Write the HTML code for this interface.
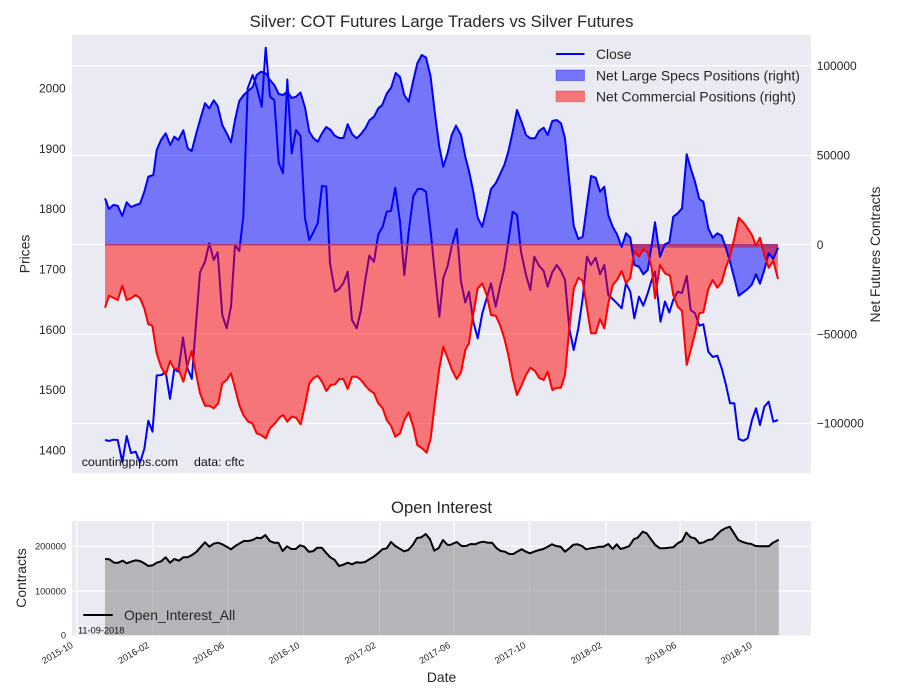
<!DOCTYPE html>
<html><head><meta charset="utf-8"><style>
html,body{margin:0;padding:0;background:#fff;}
svg{display:block;font-family:"Liberation Sans",Arial,sans-serif;}
</style></head><body>
<svg width="900" height="700" viewBox="0 0 900 700" xmlns="http://www.w3.org/2000/svg">
<rect x="0" y="0" width="900" height="700" fill="#fff"/>
<!-- main axes -->
<rect x="72" y="35" width="739" height="438" fill="#eaeaf2"/>
<g stroke="#fff" stroke-width="1.2">
<line x1="72" y1="65.7" x2="811" y2="65.7"/>
<line x1="72" y1="155.3" x2="811" y2="155.3"/>
<line x1="72" y1="244.5" x2="811" y2="244.5"/>
<line x1="72" y1="334" x2="811" y2="334"/>
<line x1="72" y1="423.3" x2="811" y2="423.3"/>
</g>
<!-- Close -->
<polyline fill="none" stroke="#0000ff" stroke-width="2" stroke-linejoin="round" points="105,440 109,441 113.3,439.7 117.7,440 122.3,462 126.7,436 131,453 135.7,451.7 140,462.5 144.3,449 148.3,420.7 152.5,431.7 156.7,375.5 161.5,375 165.7,372 170,398.8 174.3,369 178.3,371.7 183,337.5 187.5,368.3 191.8,378.8 195,336.7 200,272.3 205,261.7 209.3,243.3 213.7,260 217.7,252.3 222.3,315 226.7,328.3 231,306.7 235,245 239.3,251 243.3,216.7 247.7,88.3 252.7,75 256.7,87.3 261.7,106.7 265.7,47.7 270,96.7 274.3,100 278.7,162.7 283,173.3 287.3,79.5 291.7,153.5 296,130 300.5,136 305,218.3 309.3,240 313.5,232 317.7,223.3 322,185.8 326.3,186.7 330,263.3 335,291.7 339,289 343.3,283.3 347.7,271.7 352,320 356.7,328.3 361,310 365.3,280 369.3,255.7 374,261.7 378.3,234.3 382.7,226.7 386.7,211.7 391,211 395.3,187.7 400,221.7 404.3,275 408.7,231.7 413.3,196.3 417.7,189 422,189 426,191.7 430.7,231.7 435,275 439.3,316.7 443.3,278.3 447.7,265.7 452,245 456.7,229 461,281.7 465.3,302.5 469,291.7 473.3,321.7 477.7,338.3 482.3,313.3 486.7,298.3 491,283.3 495.7,306.7 500,286.7 504.3,268.3 508.3,241.7 512.7,211.7 517,215 521,251.7 526,275 530.3,290 534.3,256.7 539,265.7 543.7,271 547.7,286.7 552.3,272.3 556.7,265 561,271 565,280 569.3,328.3 573.7,350 578.3,328.3 582.7,298.3 587,256.7 591,265 595.7,257.7 600,274.3 604.3,265 608.3,295 612.7,299 617,303.3 621.7,308.3 626,283.3 630.3,291.7 634.3,318.3 639,296.7 643.3,305.7 647.7,293.3 651.7,280 655,271.7 660.5,321.7 665,301.5 669.3,312.5 673.3,299.7 677.7,291.7 682,293 686.7,276 690.7,310 695,313.3 699.3,325.7 703.3,324.3 708.3,351.7 712.7,357 717.3,355.7 721.7,368.3 726,385 730,403.3 734.3,403.3 738.7,439 743.3,440.7 747.7,438.3 752,420 756,408.3 760,425 764.3,406.7 768.7,401.7 773.3,421.7 778,420"/>
<!-- Specs fill -->
<polygon fill="rgba(0,0,255,0.5)" stroke="none" points="105,244.5 105,198.3 109,209 113.3,205 117.7,205.7 122.3,216 126.7,202.3 131,207 135.7,205 140,203.7 144.3,191.7 148.3,176.7 153.3,175 156.7,150 161,140 165.7,133.3 170.3,145 174.3,136.7 178.3,140 183.3,130.3 187.7,148.3 191.7,151 196.7,131.7 201,116.7 205,103.3 209.3,108.3 213.7,100.3 217.7,106 222.3,125 226.7,133.3 231,142.3 235,120 239.3,101 243.7,95 248.3,90.7 252.7,87 256.7,75 261,71.7 265.7,73.3 270,80 274.3,85 278.7,94 283,95 287.3,91.7 291.7,98 296,96.7 300.5,92.5 305,107.5 309.3,131.7 313.3,138 317.7,141.7 322,133.3 326.2,127 330.7,130 334.5,135.5 339,138 343.5,138 347.7,124.2 352.2,134.2 356.7,138.3 361,134 365.3,128.3 369.5,120.2 374,116.7 378.3,108.3 382.2,105 386.8,93.5 391.2,87.5 395.7,73 400,77 404.3,95 408.7,101.7 413,81.7 417.3,63.3 421.7,55 426,57.5 430.5,76 435,114 439.3,146.7 443.3,166.7 447.7,152.5 451.7,135 456,125.7 461,135 465.3,156.7 469,171 473.3,191.7 477.7,217.7 482.3,226.7 486.7,208.3 491,189 495.7,183.3 500,174.3 504.3,165 508.3,151.7 512.7,131.7 517,110 521.7,122.3 526,135 530.3,138.3 535,138.3 539,131 543.7,127.7 547.7,135 552.3,121 556.7,120 561,123.3 565,138.3 569.3,181.7 573.7,225.7 578.3,239 582.7,236.7 587,205 591,176 595.7,177.7 600,191.7 604.3,186.7 608.3,215 612.7,226.7 617,234.3 621.7,247 626,233.3 630.3,237.7 634.3,265 639,266.7 643.3,274.3 647.7,270 651.7,245 655,222.3 660,256.7 665,244.3 669.3,242.3 673.3,216.7 677.7,213.3 682,208.3 686.7,154.3 690.7,168.3 695,181.7 699.3,199 703.3,201.7 708.3,228.3 712.7,237.7 717.3,233.3 721.7,235.7 726,248.3 730,261.7 734.3,278.3 738.7,295.7 743.3,292.3 747.7,289 752,284.3 756,274.3 760,283.7 764.3,270 768.7,253.3 773.3,259 778,247.7 778,244.5"/>
<!-- Commercial fill -->
<polygon fill="rgba(255,0,0,0.5)" stroke="none" points="105,244.5 105,307.7 109,295.7 113.3,297.7 117.7,300 122.3,285.7 126.7,300 131,298.3 135.7,295 140,298.3 144.3,308.3 148.3,324.3 152.3,325.7 156.7,353.3 161,366.7 165.7,375 170,361 174.3,369 178.3,368.3 183.3,381.7 187.7,365 191.7,351 195.7,371.7 200,393.3 205,405.7 209.3,405.7 213.7,408.3 218.3,403.3 222.3,383.3 226.7,380 231,373.3 235,388.3 239.3,405 243.3,415 248.3,421.7 252.3,423.3 256.7,433.3 261,435 265.7,438.3 270,428.3 275,423.3 280,417 283.3,415 287.3,421.7 291.7,416.7 296,417.7 300.7,424.3 305,405 309.3,383.3 313.3,378.3 317.7,375.7 322,381.7 326.3,391 330.7,385 335,384.3 339.3,379 343.3,379 347.7,389 352,376.7 356.7,376.7 361,380 365.3,385.7 369.3,390 374,393.3 378.3,403.3 382.7,408.3 386.7,420 391,425.7 395.3,436.7 400,433.3 404.3,420 408.7,412.3 413.3,426.7 417.3,445 422,448.3 426.7,452.7 430.7,438.3 435,401.7 439.3,368.3 443.3,346.7 447.7,358.3 452,370 456.7,379 461,372.3 465.3,350 469,343.3 472.3,320 477.7,288.3 482.3,283.3 486.7,295 491,315 495.7,315.7 500,325 504.3,338.3 508.3,355 512.7,378.3 517,395 521.7,385 526,375 530.3,367.7 535,371 539,377.7 543.7,380 547.7,371.7 552.3,390 556.7,387.7 561,387.7 565,375 569.3,328.3 573.7,289 578.3,277.7 582.7,281 587,308.3 591,333.3 595.7,333.3 600,319 604.3,328.3 608.3,303.3 612.7,285 617,280 621.7,271 626,283.3 630.3,277.7 634.3,251 639,256.7 643.3,249.3 647.7,252.3 651.7,268.3 655,298.3 660,265 665,273.3 670,275.7 673.3,295 677.7,306.7 682,311 686.7,365 690.7,350 695,333.3 699.3,313.3 703.3,312.3 708.3,289 712.7,280 717.3,287.7 721.7,282.3 726,266.7 730,256.7 734.3,238.3 738.7,217.7 743.3,222.3 747.7,228.3 752,235 756,245.7 760,237.7 764.3,255 768.7,267.7 773.3,261 778,279 778,244.5"/>
<!-- zero band -->
<line x1="105" y1="244.8" x2="778" y2="244.8" stroke="#b03a78" stroke-width="1.5"/>
<rect x="631.7" y="244.3" width="146.5" height="3.4" fill="#a8387a" opacity="0.85"/>
<!-- Specs line -->
<polyline fill="none" stroke="#0000ff" stroke-width="2" stroke-linejoin="round" points="105,198.3 109,209 113.3,205 117.7,205.7 122.3,216 126.7,202.3 131,207 135.7,205 140,203.7 144.3,191.7 148.3,176.7 153.3,175 156.7,150 161,140 165.7,133.3 170.3,145 174.3,136.7 178.3,140 183.3,130.3 187.7,148.3 191.7,151 196.7,131.7 201,116.7 205,103.3 209.3,108.3 213.7,100.3 217.7,106 222.3,125 226.7,133.3 231,142.3 235,120 239.3,101 243.7,95 248.3,90.7 252.7,87 256.7,75 261,71.7 265.7,73.3 270,80 274.3,85 278.7,94 283,95 287.3,91.7 291.7,98 296,96.7 300.5,92.5 305,107.5 309.3,131.7 313.3,138 317.7,141.7 322,133.3 326.2,127 330.7,130 334.5,135.5 339,138 343.5,138 347.7,124.2 352.2,134.2 356.7,138.3 361,134 365.3,128.3 369.5,120.2 374,116.7 378.3,108.3 382.2,105 386.8,93.5 391.2,87.5 395.7,73 400,77 404.3,95 408.7,101.7 413,81.7 417.3,63.3 421.7,55 426,57.5 430.5,76 435,114 439.3,146.7 443.3,166.7 447.7,152.5 451.7,135 456,125.7 461,135 465.3,156.7 469,171 473.3,191.7 477.7,217.7 482.3,226.7 486.7,208.3 491,189 495.7,183.3 500,174.3 504.3,165 508.3,151.7 512.7,131.7 517,110 521.7,122.3 526,135 530.3,138.3 535,138.3 539,131 543.7,127.7 547.7,135 552.3,121 556.7,120 561,123.3 565,138.3 569.3,181.7 573.7,225.7 578.3,239 582.7,236.7 587,205 591,176 595.7,177.7 600,191.7 604.3,186.7 608.3,215 612.7,226.7 617,234.3 621.7,247 626,233.3 630.3,237.7 634.3,265 639,266.7 643.3,274.3 647.7,270 651.7,245 655,222.3 660,256.7 665,244.3 669.3,242.3 673.3,216.7 677.7,213.3 682,208.3 686.7,154.3 690.7,168.3 695,181.7 699.3,199 703.3,201.7 708.3,228.3 712.7,237.7 717.3,233.3 721.7,235.7 726,248.3 730,261.7 734.3,278.3 738.7,295.7 743.3,292.3 747.7,289 752,284.3 756,274.3 760,283.7 764.3,270 768.7,253.3 773.3,259 778,247.7"/>
<!-- Commercial line -->
<polyline fill="none" stroke="#ff0000" stroke-width="2" stroke-linejoin="round" points="105,307.7 109,295.7 113.3,297.7 117.7,300 122.3,285.7 126.7,300 131,298.3 135.7,295 140,298.3 144.3,308.3 148.3,324.3 152.3,325.7 156.7,353.3 161,366.7 165.7,375 170,361 174.3,369 178.3,368.3 183.3,381.7 187.7,365 191.7,351 195.7,371.7 200,393.3 205,405.7 209.3,405.7 213.7,408.3 218.3,403.3 222.3,383.3 226.7,380 231,373.3 235,388.3 239.3,405 243.3,415 248.3,421.7 252.3,423.3 256.7,433.3 261,435 265.7,438.3 270,428.3 275,423.3 280,417 283.3,415 287.3,421.7 291.7,416.7 296,417.7 300.7,424.3 305,405 309.3,383.3 313.3,378.3 317.7,375.7 322,381.7 326.3,391 330.7,385 335,384.3 339.3,379 343.3,379 347.7,389 352,376.7 356.7,376.7 361,380 365.3,385.7 369.3,390 374,393.3 378.3,403.3 382.7,408.3 386.7,420 391,425.7 395.3,436.7 400,433.3 404.3,420 408.7,412.3 413.3,426.7 417.3,445 422,448.3 426.7,452.7 430.7,438.3 435,401.7 439.3,368.3 443.3,346.7 447.7,358.3 452,370 456.7,379 461,372.3 465.3,350 469,343.3 472.3,320 477.7,288.3 482.3,283.3 486.7,295 491,315 495.7,315.7 500,325 504.3,338.3 508.3,355 512.7,378.3 517,395 521.7,385 526,375 530.3,367.7 535,371 539,377.7 543.7,380 547.7,371.7 552.3,390 556.7,387.7 561,387.7 565,375 569.3,328.3 573.7,289 578.3,277.7 582.7,281 587,308.3 591,333.3 595.7,333.3 600,319 604.3,328.3 608.3,303.3 612.7,285 617,280 621.7,271 626,283.3 630.3,277.7 634.3,251 639,256.7 643.3,249.3 647.7,252.3 651.7,268.3 655,298.3 660,265 665,273.3 670,275.7 673.3,295 677.7,306.7 682,311 686.7,365 690.7,350 695,333.3 699.3,313.3 703.3,312.3 708.3,289 712.7,280 717.3,287.7 721.7,282.3 726,266.7 730,256.7 734.3,238.3 738.7,217.7 743.3,222.3 747.7,228.3 752,235 756,245.7 760,237.7 764.3,255 768.7,267.7 773.3,261 778,279"/>

<!-- main texts -->
<text x="441.5" y="27" font-size="16.67" fill="#262626" text-anchor="middle">Silver: COT Futures Large Traders vs Silver Futures</text>
<g font-size="12" fill="#262626" text-anchor="end">
<text x="65.7" y="92.6">2000</text>
<text x="65.7" y="152.9">1900</text>
<text x="65.7" y="213.2">1800</text>
<text x="65.7" y="273.5">1700</text>
<text x="65.7" y="333.8">1600</text>
<text x="65.7" y="394.1">1500</text>
<text x="65.7" y="454.4">1400</text>
</g>
<g font-size="12" fill="#262626">
<text x="816.7" y="70">100000</text>
<text x="816.7" y="159.6">50000</text>
<text x="816.7" y="248.8">0</text>
<text x="816.7" y="338.3">−50000</text>
<text x="816.7" y="427.6">−100000</text>
</g>
<text transform="translate(29.5,254) rotate(-90)" font-size="13.9" fill="#262626" text-anchor="middle">Prices</text>
<text transform="translate(880,254.5) rotate(-90)" font-size="13.9" fill="#262626" text-anchor="middle">Net Futures Contracts</text>
<text x="81.7" y="466" font-size="12.4" fill="#111">countingpips.com</text>
<text x="194" y="466" font-size="12.4" fill="#111">data: cftc</text>
<!-- legend -->
<line x1="556" y1="54" x2="584.5" y2="54" stroke="#0000ff" stroke-width="2"/>
<rect x="556" y="70" width="28.5" height="10.7" fill="rgba(0,0,255,0.5)" stroke="rgba(0,0,255,0.3)" stroke-width="1"/>
<rect x="556" y="91" width="28.5" height="10.7" fill="rgba(255,0,0,0.5)" stroke="rgba(255,0,0,0.3)" stroke-width="1"/>
<g font-size="13.9" fill="#262626">
<text x="596" y="59">Close</text>
<text x="596" y="80.3">Net Large Specs Positions (right)</text>
<text x="596" y="101.3">Net Commercial Positions (right)</text>
</g>

<!-- bottom axes -->
<text x="441.5" y="513" font-size="16.67" fill="#262626" text-anchor="middle">Open Interest</text>
<rect x="72" y="521" width="739" height="114.3" fill="#eaeaf2"/>
<g stroke="#fff" stroke-width="1.2">
<line x1="72" y1="546.3" x2="811" y2="546.3"/>
<line x1="72" y1="591" x2="811" y2="591"/>
<line x1="76.7" y1="521" x2="76.7" y2="635.3"/>
<line x1="152.9" y1="521" x2="152.9" y2="635.3"/>
<line x1="227.9" y1="521" x2="227.9" y2="635.3"/>
<line x1="303.4" y1="521" x2="303.4" y2="635.3"/>
<line x1="379.6" y1="521" x2="379.6" y2="635.3"/>
<line x1="454" y1="521" x2="454" y2="635.3"/>
<line x1="529.5" y1="521" x2="529.5" y2="635.3"/>
<line x1="605.7" y1="521" x2="605.7" y2="635.3"/>
<line x1="680.1" y1="521" x2="680.1" y2="635.3"/>
<line x1="755.7" y1="521" x2="755.7" y2="635.3"/>
</g>
<polygon fill="rgba(128,128,128,0.5)" points="105,635.3 105,559 109.3,559.3 114,562.7 118.3,562.7 122.7,560.7 126.7,563.3 131,561.7 135.7,560.3 140,561 144.3,563.3 148.3,566 152.7,565.3 156.7,562.7 161.3,561.3 165.7,557.3 170,562.7 174.3,559 179,560.7 183.3,557.3 187.7,557.3 192,555 196.7,551.7 201,546.7 205,542.3 209.3,546.7 213.7,543.7 218,542.7 222.3,544.3 226.7,546.7 231,549.3 235.3,546 239.7,543.3 244,541 248.3,541 252.7,540 256.7,537.7 261,538.3 265.3,535 269.7,541 274,542.7 278.3,542.7 282.7,551 287,546.3 291.3,549 295.7,549 300,545.3 304.3,546.7 308.7,551.7 313,551.3 317.3,547.7 321.7,547.7 326,552.7 330.3,557.3 334.7,560 339,566 343.3,564.7 347.7,562.7 352,564.3 356.3,562.3 360.7,562.7 365,562 369.3,559.3 373.7,556.7 378,553.3 382.3,549.3 386.7,548.3 391,542 395.3,546 399.7,548.7 404,551.3 408.3,550 412.7,545 417,538 421.3,537.3 425.7,534 430,539.3 434.3,550.7 438.7,548 443,540 447.3,544.7 450,545 456.7,542 461.7,546 466,546 470.7,544 475,544.3 480,542.3 483.3,541.7 487.7,542.7 492,542.7 496.7,548.3 500.7,551 505,551.7 509.3,554 513.3,554 517.7,551.3 521.7,549.3 526,551.7 530,553.3 535,551.3 539.3,550 543.3,549 547.7,546.7 552,544.3 556,546 560.7,546.7 565,551.7 569.3,548.3 573.3,544.7 577.7,544.3 582,546 586,549.3 590.7,548.3 595,547.7 599.3,546.7 603.3,546.7 608.3,544 612.7,549 616.7,544.3 620.7,549 625,547.7 629.3,546 633.7,539.3 637.7,537.7 642.7,531.7 646.7,533.3 651,539.3 655.3,545 660,548.3 664.3,548.3 668.7,547.7 673.3,547.3 677.7,543.3 682,541 686.3,532.7 690.7,537.3 695,538.3 699.3,543.3 703.7,542.3 708,540 712.3,539.3 716.7,535 721,530.7 725.3,528.3 729.7,526.7 734,533.3 738.3,540 742.7,542 747,543.3 751.3,544 755.7,546 760,546.3 764.3,546.3 768.7,546.3 773,542.7 778.7,539.7 778.7,635.3"/>
<polyline fill="none" stroke="#000" stroke-width="2" stroke-linejoin="round" points="105,559 109.3,559.3 114,562.7 118.3,562.7 122.7,560.7 126.7,563.3 131,561.7 135.7,560.3 140,561 144.3,563.3 148.3,566 152.7,565.3 156.7,562.7 161.3,561.3 165.7,557.3 170,562.7 174.3,559 179,560.7 183.3,557.3 187.7,557.3 192,555 196.7,551.7 201,546.7 205,542.3 209.3,546.7 213.7,543.7 218,542.7 222.3,544.3 226.7,546.7 231,549.3 235.3,546 239.7,543.3 244,541 248.3,541 252.7,540 256.7,537.7 261,538.3 265.3,535 269.7,541 274,542.7 278.3,542.7 282.7,551 287,546.3 291.3,549 295.7,549 300,545.3 304.3,546.7 308.7,551.7 313,551.3 317.3,547.7 321.7,547.7 326,552.7 330.3,557.3 334.7,560 339,566 343.3,564.7 347.7,562.7 352,564.3 356.3,562.3 360.7,562.7 365,562 369.3,559.3 373.7,556.7 378,553.3 382.3,549.3 386.7,548.3 391,542 395.3,546 399.7,548.7 404,551.3 408.3,550 412.7,545 417,538 421.3,537.3 425.7,534 430,539.3 434.3,550.7 438.7,548 443,540 447.3,544.7 450,545 456.7,542 461.7,546 466,546 470.7,544 475,544.3 480,542.3 483.3,541.7 487.7,542.7 492,542.7 496.7,548.3 500.7,551 505,551.7 509.3,554 513.3,554 517.7,551.3 521.7,549.3 526,551.7 530,553.3 535,551.3 539.3,550 543.3,549 547.7,546.7 552,544.3 556,546 560.7,546.7 565,551.7 569.3,548.3 573.3,544.7 577.7,544.3 582,546 586,549.3 590.7,548.3 595,547.7 599.3,546.7 603.3,546.7 608.3,544 612.7,549 616.7,544.3 620.7,549 625,547.7 629.3,546 633.7,539.3 637.7,537.7 642.7,531.7 646.7,533.3 651,539.3 655.3,545 660,548.3 664.3,548.3 668.7,547.7 673.3,547.3 677.7,543.3 682,541 686.3,532.7 690.7,537.3 695,538.3 699.3,543.3 703.7,542.3 708,540 712.3,539.3 716.7,535 721,530.7 725.3,528.3 729.7,526.7 734,533.3 738.3,540 742.7,542 747,543.3 751.3,544 755.7,546 760,546.3 764.3,546.3 768.7,546.3 773,542.7 778.7,539.7"/>
<!-- bottom legend -->
<line x1="83.3" y1="615" x2="112.7" y2="615" stroke="#000" stroke-width="2"/>
<text x="124" y="620" font-size="13.9" fill="#262626">Open_Interest_All</text>
<text x="78" y="633.5" font-size="9.2" fill="#111">11-09-2018</text>
<!-- bottom y ticks -->
<g font-size="9.3" fill="#262626" text-anchor="end">
<text x="66" y="549.6">200000</text>
<text x="66" y="594.3">100000</text>
<text x="66" y="638.6">0</text>
</g>
<text transform="translate(26,578) rotate(-90)" font-size="13.9" fill="#262626" text-anchor="middle">Contracts</text>
<!-- x tick labels -->
<g font-size="9.3" fill="#262626" text-anchor="end">
<text transform="translate(73.7,647) rotate(-30)">2015-10</text>
<text transform="translate(149.9,647) rotate(-30)">2016-02</text>
<text transform="translate(224.9,647) rotate(-30)">2016-06</text>
<text transform="translate(300.4,647) rotate(-30)">2016-10</text>
<text transform="translate(376.6,647) rotate(-30)">2017-02</text>
<text transform="translate(451,647) rotate(-30)">2017-06</text>
<text transform="translate(526.5,647) rotate(-30)">2017-10</text>
<text transform="translate(602.7,647) rotate(-30)">2018-02</text>
<text transform="translate(677.1,647) rotate(-30)">2018-06</text>
<text transform="translate(752.7,647) rotate(-30)">2018-10</text>
</g>
<text x="441.5" y="682" font-size="13.9" fill="#262626" text-anchor="middle">Date</text>
</svg>
</body></html>
